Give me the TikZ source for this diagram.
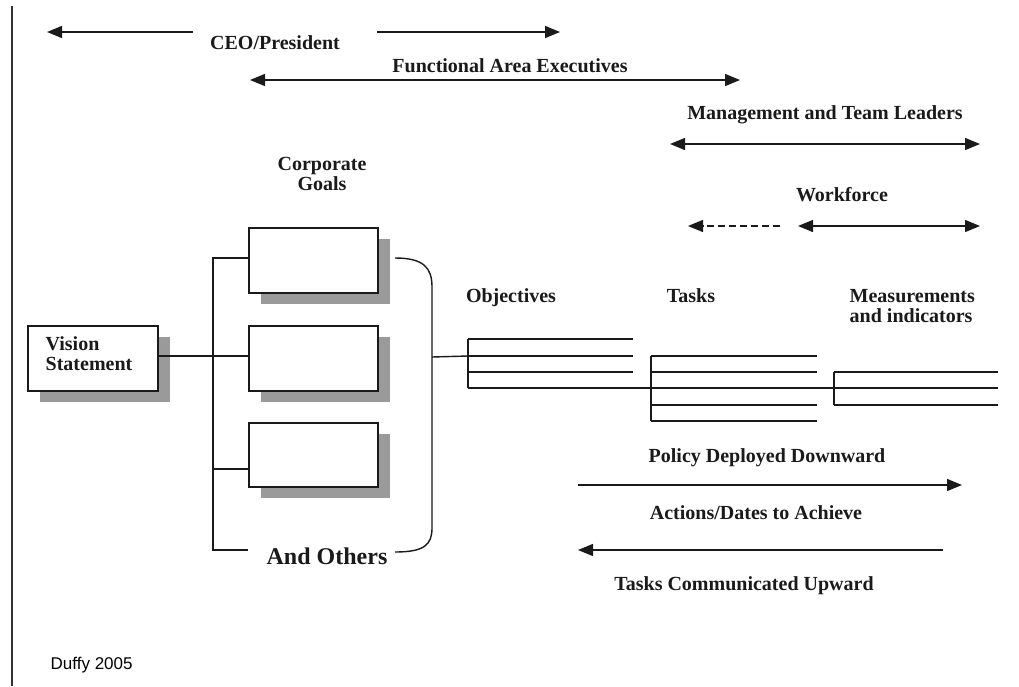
\documentclass[tikz,border=0pt]{standalone}
\usepackage{fontspec}
\newfontfamily\lbf{Liberation Serif}
\setsansfont{Liberation Sans}
\usetikzlibrary{arrows.meta,shadows}
\definecolor{shgray}{HTML}{9A9A9A}
\definecolor{ink}{HTML}{1A1A1A}
\begin{document}
\begin{tikzpicture}[x=1pt,y=-1pt,
  line width=1.4pt, draw=ink,
  lbl/.style={font={\lbf\bfseries\fontsize{20pt}{20pt}\selectfont}, anchor=base, inner sep=0pt, text=ink},
  big/.style={font={\lbf\bfseries\fontsize{24pt}{26pt}\selectfont}, anchor=base, inner sep=0pt, text=ink},
  tip/.style={-{Triangle[length=15pt,width=12pt]}},
  dtip/.style={{Triangle[length=15pt,width=12pt]}-{Triangle[length=15pt,width=12pt]}},
  goalbox/.style={draw=ink, line width=1.6pt, fill=white, inner sep=0pt,
    minimum width=129pt, minimum height=65pt,
    drop shadow={shadow xshift=12pt, shadow yshift=-11pt, fill=shgray, opacity=1}}
]
\useasboundingbox (0,0) rectangle (1019,686);
\fill[white] (0,0) rectangle (1019,686);
% left border
\draw[line width=2pt, draw=black!80] (12,6) -- (12,686);

% level arrows
\node[lbl] (ceo) at (275,49) {CEO/President};
\coordinate (ceoL1) at (193,32); \coordinate (ceoL2) at (47,32);
\coordinate (ceoR1) at (377,32); \coordinate (ceoR2) at (560,32);
\draw[tip] (ceoL1) -- (ceoL2);
\draw[tip] (ceoR1) -- (ceoR2);

\node[lbl] (fae) at (510,72) {Functional Area Executives};
\coordinate (faeL) at (250,80); \coordinate (faeR) at (740,80);
\draw[dtip] (faeL) -- (faeR);

\node[lbl] (mtl) at (825,119) {Management and Team Leaders};
\coordinate (mtlL) at (670,144); \coordinate (mtlR) at (980,144);
\draw[dtip] (mtlL) -- (mtlR);

\node[lbl] (wf) at (842,201) {Workforce};
\coordinate (wfD1) at (780,226); \coordinate (wfD2) at (688,226);
\coordinate (wfL) at (798,226); \coordinate (wfR) at (980,226);
\draw[tip, dash pattern=on 7pt off 4pt] (wfD1) -- (wfD2);
\draw[dtip] (wfL) -- (wfR);

% vision and goals
\node[lbl, align=center] (cg) at (322,190) {Corporate\\Goals};
\node[goalbox, minimum width=130pt] (vis) at (93,358.5) {};
\node[lbl, anchor=base west, align=left] (vistext) at (45,370) {Vision\\Statement};
\node[goalbox] (g1) at (313.5,260.5) {};
\node[goalbox] (g2) at (313.5,358.5) {};
\node[goalbox, minimum height=64pt] (g3) at (313.5,455) {};
\node[big] (others) at (327,564) {And Others};

\coordinate (t1) at (213,258);
\coordinate (t2) at (213,356);
\coordinate (t3) at (213,469);
\coordinate (t4) at (213,550);
\draw (g1.west |- t1) -- (t1) -- (t4) -- (t4 -| g1.west);
\draw (vis.east |- t2) -- (g2.west |- t2);
\draw (t3) -- (g3.west |- t3);

% right bracket
\coordinate (bt) at (395,258);
\coordinate (bb) at (395,552);
\coordinate (bm) at (432,357);
\draw (bt) .. controls (424,258) and (432,268) .. (432,287) -- (432,528)
      .. controls (432,545) and (424,552) .. (bb);

% objectives / tasks / measurements
\node[lbl] (objl) at (511,302) {Objectives};
\node[lbl] (taskl) at (691,302) {Tasks};
\node[lbl, anchor=base west, align=left] (meas) at (849,322) {Measurements\\and indicators};

\coordinate (o1) at (468,339); \coordinate (o2) at (468,356);
\coordinate (o3) at (468,372); \coordinate (o4) at (468,388);
\draw (bm) -- (o2);
\draw (o1) -- (o4);
\draw (o1) -- (633,339);
\draw (o2) -- (633,356);
\draw (o3) -- (633,372);
\draw (o4) -- (998,388);

\coordinate (k1) at (651,356); \coordinate (k5) at (651,421);
\draw (k1) -- (k5);
\draw (k1) -- (817,356);
\draw (651,372) -- (817,372);
\draw (651,405) -- (817,405);
\draw (k5) -- (817,421);

\coordinate (m1) at (834,372); \coordinate (m3) at (834,405);
\draw (m1) -- (m3);
\draw (m1) -- (998,372);
\draw (m3) -- (998,405);

% bottom arrows
\node[lbl] (pdd) at (767,462) {Policy Deployed Downward};
\coordinate (pddL) at (578,485); \coordinate (pddR) at (962,485);
\draw[tip] (pddL) -- (pddR);
\node[lbl] (ada) at (756,519) {Actions/Dates to Achieve};
\coordinate (tcuR) at (943,550); \coordinate (tcuL) at (578,550);
\draw[tip] (tcuR) -- (tcuL);
\node[lbl] (tcu) at (744,590) {Tasks Communicated Upward};

\node[font={\sffamily\fontsize{17pt}{20pt}\selectfont}, anchor=base west, inner sep=0pt] (src) at (50,669) {Duffy 2005};
\end{tikzpicture}
\end{document}
